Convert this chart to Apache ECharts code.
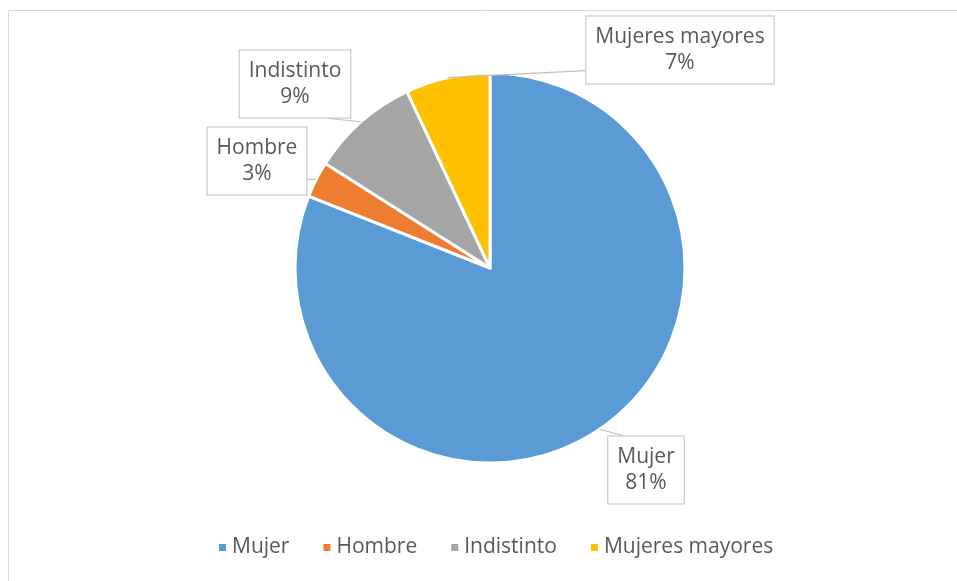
<!DOCTYPE html>
<html>
<head>
<meta charset="utf-8">
<script src="https://cdn.jsdelivr.net/npm/echarts@6/dist/echarts.min.js"></script>
<style>
  html, body { margin: 0; padding: 0; background: #fff; }
  #chart { width: 957px; height: 581px; }
</style>
</head>
<body>
<div id="chart"></div>
<script>
const categories = ["Mujer", "Hombre", "Indistinto", "Mujeres mayores"];
const values = [81, 3, 9, 7];
const colors = ["#5B9BD5", "#ED7D31", "#A5A5A5", "#FFC000"];

// where the callout boxes sit (centre of each box) and which side the leader joins
const labelSpots = [
  [646, 470],
  [257, 161],
  [295, 84],
  [680, 50],
];
const labelSides = ["top", "right", "bottom", "left"];

const chart = echarts.init(document.getElementById("chart"), null, { renderer: "canvas" });

const frame = {
  type: "rect",
  id: "frame",
  shape: { x: 8.5, y: 10.5, width: 960, height: 590 },
  style: { fill: "none", stroke: "#d9d9d9", lineWidth: 1 },
  silent: true,
  z: 0,
};

const option = {
  color: colors,
  textStyle: { fontFamily: "Open Sans" },
  graphic: [frame],
  legend: {
    bottom: 18,
    left: 212,
    itemWidth: 9,
    itemHeight: 9,
    itemGap: 32,
    icon: "rect",
    textStyle: { color: "#595959", fontSize: 21, fontFamily: "Open Sans" },
    data: categories,
  },
  series: [
    {
      type: "pie",
      center: [490, 268],
      radius: 195,
      startAngle: 90,
      clockwise: true,
      animation: false,
      itemStyle: { borderColor: "#fff", borderWidth: 3 },
      label: {
        show: true,
        formatter: "{b}\n{d}%",
        color: "#595959",
        fontSize: 21,
        lineHeight: 26,
        align: "center",
        backgroundColor: "#fff",
        borderColor: "#bfbfbf",
        borderWidth: 1,
        padding: [8, 9, 7, 9],
      },
      labelLine: { show: false },
      labelLayout: function (params) {
        const p = labelSpots[params.dataIndex];
        return { x: p[0], y: p[1], align: "center", verticalAlign: "middle" };
      },
      data: categories.map((name, i) => ({ name: name, value: values[i] })),
    },
  ],
};

chart.setOption(option);

// leader lines: from the middle of each slice's rim to the side of its box
const data = chart.getModel().getSeriesByIndex(0).getData();
const leaders = [];
for (let i = 0; i < data.count(); i++) {
  const lay = data.getItemLayout(i);
  const mid = (lay.startAngle + lay.endAngle) / 2;
  const sx = lay.cx + lay.r * Math.cos(mid);
  const sy = lay.cy + lay.r * Math.sin(mid);

  const text = data.getItemGraphicEl(i).getTextContent();
  const rect = text.getBoundingRect().clone();
  rect.applyTransform(text.getComputedTransform());
  const x0 = rect.x, x1 = rect.x + rect.width;
  const y0 = rect.y, y1 = rect.y + rect.height;
  const ix = rect.width * 0.2, iy = rect.height * 0.2;
  const cx = Math.min(Math.max(sx, x0 + ix), x1 - ix);
  const cy = Math.min(Math.max(sy, y0 + iy), y1 - iy);
  let end;
  switch (labelSides[i]) {
    case "left": end = [x0, cy]; break;
    case "right": end = [x1, cy]; break;
    case "top": end = [cx, y0]; break;
    default: end = [cx, y1];
  }
  leaders.push({
    type: "polyline",
    id: "leader" + i,
    shape: { points: [[sx, sy], end] },
    style: { stroke: "#bfbfbf", lineWidth: 1.2, fill: "none" },
    z: 10,
    silent: true,
  });
}
chart.setOption({ graphic: [frame].concat(leaders) });
</script>
</body>
</html>
